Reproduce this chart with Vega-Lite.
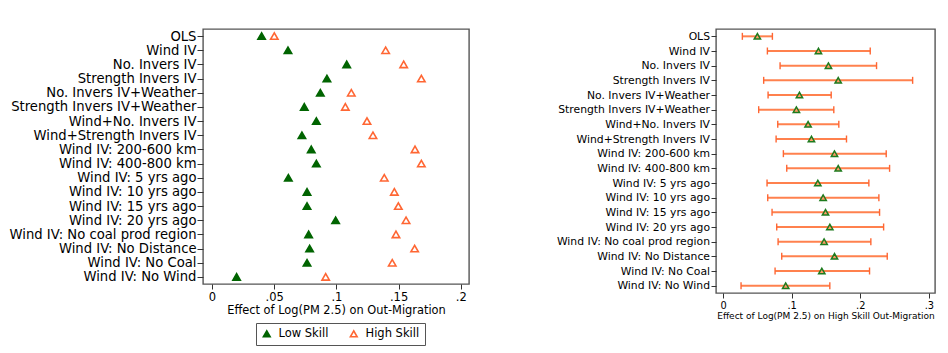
{
  "$schema": "https://vega.github.io/schema/vega-lite/v6.json",
  "padding": {"left": 8, "top": 28, "right": 2, "bottom": 5},
  "background": "white",
  "config": {
    "font": "DejaVu Sans",
    "view": {"stroke": "#555555", "strokeWidth": 1.4},
    "axis": {"domain": false, "grid": false, "labelColor": "#000000", "titleColor": "#000000", "tickColor": "#333333", "titleFontWeight": "normal"},
    "legend": {"labelColor": "#000000"}
  },
  "datasets": {
    "left": [
      {"model": "OLS", "skill": "Low Skill", "est": 0.0399},
      {"model": "OLS", "skill": "High Skill", "est": 0.0501},
      {"model": "Wind IV", "skill": "Low Skill", "est": 0.0611},
      {"model": "Wind IV", "skill": "High Skill", "est": 0.1396},
      {"model": "No. Invers IV", "skill": "Low Skill", "est": 0.1083},
      {"model": "No. Invers IV", "skill": "High Skill", "est": 0.1541},
      {"model": "Strength Invers IV", "skill": "Low Skill", "est": 0.0924},
      {"model": "Strength Invers IV", "skill": "High Skill", "est": 0.1683},
      {"model": "No. Invers IV+Weather", "skill": "Low Skill", "est": 0.0871},
      {"model": "No. Invers IV+Weather", "skill": "High Skill", "est": 0.112},
      {"model": "Strength Invers IV+Weather", "skill": "Low Skill", "est": 0.0742},
      {"model": "Strength Invers IV+Weather", "skill": "High Skill", "est": 0.1072},
      {"model": "Wind+No. Invers IV", "skill": "Low Skill", "est": 0.0839},
      {"model": "Wind+No. Invers IV", "skill": "High Skill", "est": 0.1246},
      {"model": "Wind+Strength Invers IV", "skill": "Low Skill", "est": 0.0723},
      {"model": "Wind+Strength Invers IV", "skill": "High Skill", "est": 0.1294},
      {"model": "Wind IV: 200-600 km", "skill": "Low Skill", "est": 0.0798},
      {"model": "Wind IV: 200-600 km", "skill": "High Skill", "est": 0.1632},
      {"model": "Wind IV: 400-800 km", "skill": "Low Skill", "est": 0.0839},
      {"model": "Wind IV: 400-800 km", "skill": "High Skill", "est": 0.1683},
      {"model": "Wind IV: 5 yrs ago", "skill": "Low Skill", "est": 0.0614},
      {"model": "Wind IV: 5 yrs ago", "skill": "High Skill", "est": 0.1385},
      {"model": "Wind IV: 10 yrs ago", "skill": "Low Skill", "est": 0.0764},
      {"model": "Wind IV: 10 yrs ago", "skill": "High Skill", "est": 0.1466},
      {"model": "Wind IV: 15 yrs ago", "skill": "Low Skill", "est": 0.0764},
      {"model": "Wind IV: 15 yrs ago", "skill": "High Skill", "est": 0.1498},
      {"model": "Wind IV: 20 yrs ago", "skill": "Low Skill", "est": 0.0994},
      {"model": "Wind IV: 20 yrs ago", "skill": "High Skill", "est": 0.156},
      {"model": "Wind IV: No coal prod region", "skill": "Low Skill", "est": 0.0777},
      {"model": "Wind IV: No coal prod region", "skill": "High Skill", "est": 0.1479},
      {"model": "Wind IV: No Distance", "skill": "Low Skill", "est": 0.0785},
      {"model": "Wind IV: No Distance", "skill": "High Skill", "est": 0.1629},
      {"model": "Wind IV: No Coal", "skill": "Low Skill", "est": 0.0764},
      {"model": "Wind IV: No Coal", "skill": "High Skill", "est": 0.1449},
      {"model": "Wind IV: No Wind", "skill": "Low Skill", "est": 0.0198},
      {"model": "Wind IV: No Wind", "skill": "High Skill", "est": 0.0914}
    ],
    "right": [
      {"model": "OLS", "est": 0.0501, "lo": 0.0282, "hi": 0.072},
      {"model": "Wind IV", "est": 0.1391, "lo": 0.0647, "hi": 0.2146},
      {"model": "No. Invers IV", "est": 0.1537, "lo": 0.0832, "hi": 0.2238},
      {"model": "Strength Invers IV", "est": 0.1679, "lo": 0.0593, "hi": 0.2764},
      {"model": "No. Invers IV+Weather", "est": 0.1114, "lo": 0.0657, "hi": 0.1577},
      {"model": "Strength Invers IV+Weather", "est": 0.107, "lo": 0.052, "hi": 0.1615},
      {"model": "Wind+No. Invers IV", "est": 0.124, "lo": 0.0798, "hi": 0.1688},
      {"model": "Wind+Strength Invers IV", "est": 0.1289, "lo": 0.0774, "hi": 0.18},
      {"model": "Wind IV: 200-600 km", "est": 0.1625, "lo": 0.088, "hi": 0.2379},
      {"model": "Wind IV: 400-800 km", "est": 0.1679, "lo": 0.0929, "hi": 0.2428},
      {"model": "Wind IV: 5 yrs ago", "est": 0.1382, "lo": 0.0642, "hi": 0.2126},
      {"model": "Wind IV: 10 yrs ago", "est": 0.146, "lo": 0.0652, "hi": 0.2272},
      {"model": "Wind IV: 15 yrs ago", "est": 0.1494, "lo": 0.0715, "hi": 0.2282},
      {"model": "Wind IV: 20 yrs ago", "est": 0.1557, "lo": 0.0783, "hi": 0.2341},
      {"model": "Wind IV: No coal prod region", "est": 0.1474, "lo": 0.0803, "hi": 0.2155},
      {"model": "Wind IV: No Distance", "est": 0.1625, "lo": 0.0856, "hi": 0.2394},
      {"model": "Wind IV: No Coal", "est": 0.144, "lo": 0.0759, "hi": 0.2136},
      {"model": "Wind IV: No Wind", "est": 0.0914, "lo": 0.0263, "hi": 0.1557}
    ]
  },
  "hconcat": [
    {
      "width": 266,
      "height": 255,
      "layer": [
        {
          "mark": {"type": "rule", "color": "#C94A6B", "strokeWidth": 1.7},
          "encoding": {"x": {"datum": 0, "type": "quantitative"}}
        },
        {
          "data": {"name": "left"},
          "mark": {"type": "point", "shape": "triangle-up", "size": 55, "strokeWidth": 1.6, "opacity": 1},
          "encoding": {
            "y": {
              "field": "model", "type": "nominal", "sort": null,
              "scale": {"type": "point", "padding": 0.5, "domain": ["OLS", "Wind IV", "No. Invers IV", "Strength Invers IV", "No. Invers IV+Weather", "Strength Invers IV+Weather", "Wind+No. Invers IV", "Wind+Strength Invers IV", "Wind IV: 200-600 km", "Wind IV: 400-800 km", "Wind IV: 5 yrs ago", "Wind IV: 10 yrs ago", "Wind IV: 15 yrs ago", "Wind IV: 20 yrs ago", "Wind IV: No coal prod region", "Wind IV: No Distance", "Wind IV: No Coal", "Wind IV: No Wind"]},
              "axis": {"title": null, "labelFontSize": 13.2, "tickSize": 6, "labelPadding": 1, "labelLimit": 400}
            },
            "x": {
              "field": "est", "type": "quantitative",
              "scale": {"domain": [-0.0072, 0.2066], "nice": false, "zero": false},
              "axis": {"title": "Effect of Log(PM 2.5) on Out-Migration", "titleFontSize": 11.4, "titlePadding": 2, "labelFontSize": 11.5, "tickSize": 5, "labelPadding": 2, "values": [0, 0.05, 0.1, 0.15, 0.2], "labelExpr": "datum.value == 0 ? '0' : replace(format(datum.value, '.2~f'), '0.', '.')"}
            },
            "stroke": {
              "field": "skill", "type": "nominal",
              "scale": {"domain": ["Low Skill", "High Skill"], "range": ["#006400", "#FF6633"]},
              "legend": {"title": null, "orient": "none", "legendX": 53, "legendY": 294, "direction": "horizontal", "strokeColor": "#555555", "padding": 5, "labelFontSize": 11.5, "symbolSize": 45, "symbolStrokeWidth": 1.6, "columnPadding": 18, "labelOffset": 6}
            },
            "fill": {
              "field": "skill", "type": "nominal",
              "scale": {"domain": ["Low Skill", "High Skill"], "range": ["#006400", "#FFFFFF"]},
              "legend": {"title": null, "orient": "none", "legendX": 53, "legendY": 294, "direction": "horizontal", "strokeColor": "#555555", "padding": 5, "labelFontSize": 11.5, "symbolSize": 45, "symbolStrokeWidth": 1.6, "columnPadding": 18, "labelOffset": 6}
            }
          }
        }
      ]
    },
    {
      "width": 219,
      "height": 264,
      "layer": [
        {
          "mark": {"type": "rule", "color": "#C94A6B", "strokeWidth": 1.2},
          "encoding": {"x": {"datum": 0, "type": "quantitative"}}
        },
        {
          "data": {"name": "right"},
          "encoding": {
            "y": {
              "field": "model", "type": "nominal", "sort": null,
              "scale": {"type": "point", "padding": 0.5, "domain": ["OLS", "Wind IV", "No. Invers IV", "Strength Invers IV", "No. Invers IV+Weather", "Strength Invers IV+Weather", "Wind+No. Invers IV", "Wind+Strength Invers IV", "Wind IV: 200-600 km", "Wind IV: 400-800 km", "Wind IV: 5 yrs ago", "Wind IV: 10 yrs ago", "Wind IV: 15 yrs ago", "Wind IV: 20 yrs ago", "Wind IV: No coal prod region", "Wind IV: No Distance", "Wind IV: No Coal", "Wind IV: No Wind"]},
              "axis": {"title": null, "labelFontSize": 10.8, "tickSize": 5, "labelPadding": 1.5, "labelLimit": 400}
            }
          },
          "layer": [
            {
              "mark": {"type": "rule", "color": "#FF7A45", "strokeWidth": 2, "opacity": 0.95},
              "encoding": {
                "x": {
                  "field": "lo", "type": "quantitative",
                  "scale": {"domain": [-0.0102, 0.309], "nice": false, "zero": false},
                  "axis": {"title": "Effect of Log(PM 2.5) on High Skill Out-Migration", "titleFontSize": 9, "titlePadding": 2, "labelFontSize": 9.8, "tickSize": 5, "labelPadding": 2, "values": [0, 0.1, 0.2, 0.3], "labelExpr": "datum.value == 0 ? '0' : replace(format(datum.value, '.2~f'), '0.', '.')"}
                },
                "x2": {"field": "hi"}
              }
            },
            {
              "mark": {"type": "tick", "color": "#FF6633", "thickness": 1.4, "size": 7, "orient": "vertical", "opacity": 1},
              "encoding": {"x": {"field": "lo", "type": "quantitative"}}
            },
            {
              "mark": {"type": "tick", "color": "#FF6633", "thickness": 1.4, "size": 7, "orient": "vertical", "opacity": 1},
              "encoding": {"x": {"field": "hi", "type": "quantitative"}}
            },
            {
              "mark": {"type": "point", "shape": "triangle-up", "size": 40, "strokeWidth": 1.5, "opacity": 1, "stroke": "#1E7B1E", "fill": "#FF9A66"},
              "encoding": {"x": {"field": "est", "type": "quantitative"}}
            }
          ]
        }
      ]
    }
  ],
  "spacing": 85,
  "resolve": {"scale": {"x": "independent", "y": "independent", "stroke": "independent", "fill": "independent"}, "legend": {"stroke": "independent", "fill": "independent"}}
}
